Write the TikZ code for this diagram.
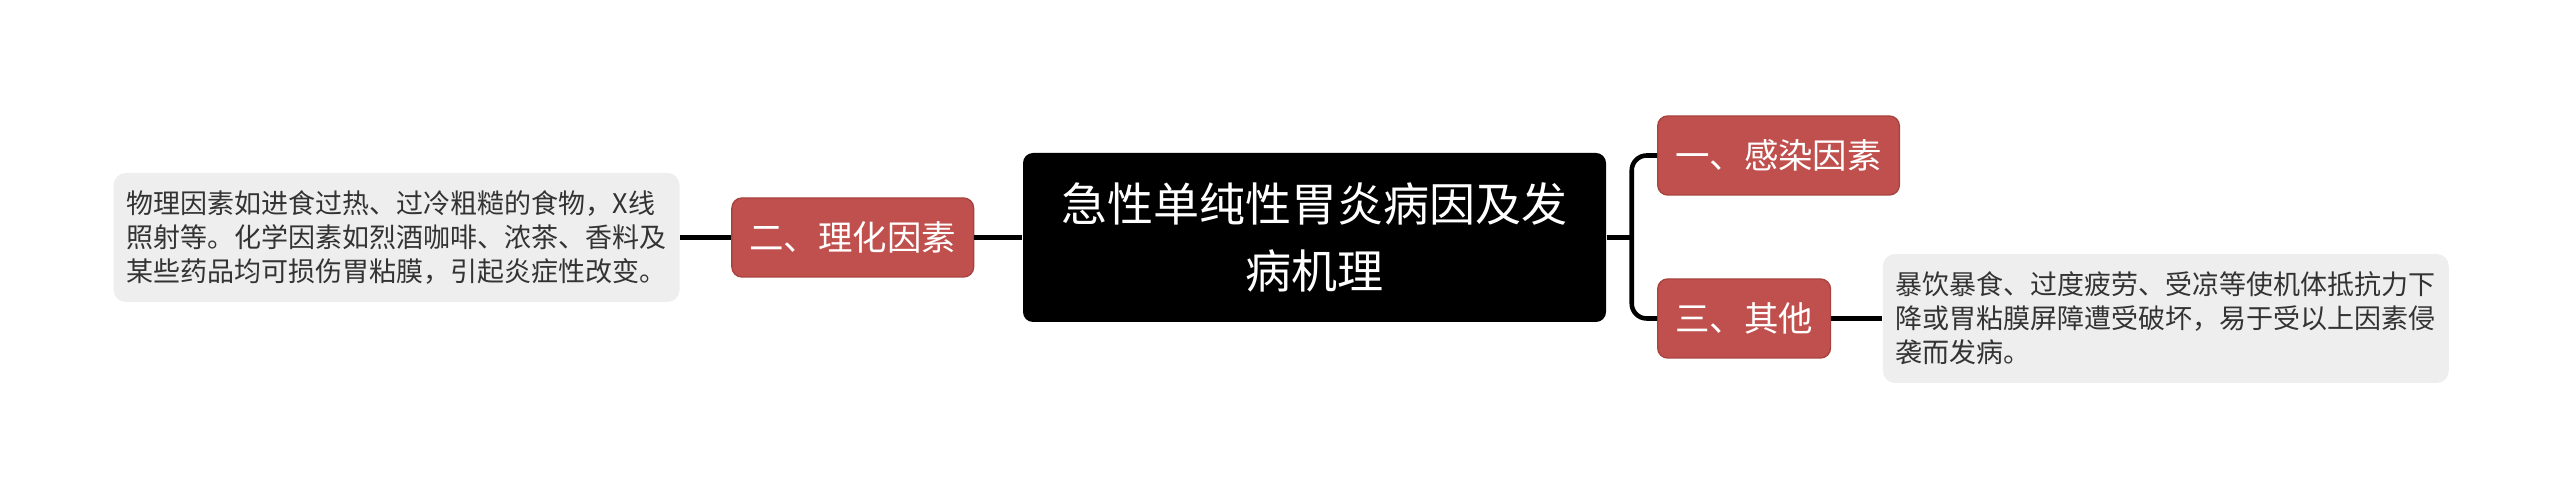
\documentclass[tikz,border=0pt]{standalone}
\usepackage{fontspec}
\setmainfont{Noto Sans CJK SC}
\usetikzlibrary{positioning}
\definecolor{topicred}{HTML}{C0504D}
\definecolor{topicline}{HTML}{A8433F}
\definecolor{notegray}{HTML}{EEEEEE}
\definecolor{notetext}{HTML}{333333}

\begin{document}
\begin{tikzpicture}[
				root/.style={rectangle, fill=black, rounded corners=0.1cm, text=white, align=center, minimum width=5.83cm, minimum height=1.69cm, inner sep=0pt, font=\fontsize{13.1pt}{19pt}\selectfont},
				topic/.style={rectangle, fill=topicred, draw=topicline, line width=0.4pt, rounded corners=0.1cm, text=white, minimum height=0.79cm, inner xsep=0.175cm, inner ysep=0pt, font=\fontsize{9.8pt}{12pt}\selectfont},
				note/.style={rectangle, fill=notegray, rounded corners=0.12cm, text=notetext, align=left, minimum width=5.64cm, minimum height=1.29cm, inner xsep=0.13cm, inner ysep=0pt, font=\fontsize{7.68pt}{9.67pt}\selectfont},
				link/.style={line width=1.3pt, black, rounded corners=0.15cm}
			]
			\useasboundingbox (0,0) rectangle (25.6,-5);
			\node[root] (root) at (13.145,-2.375) {急性单纯性胃炎病因及发\\病机理};
			% left side
			\node[topic, left=0.48cm of root] (lihua) {二、理化因素};
			\node[note, left=0.51cm of lihua] (wuli) {物理因素如进食过热、过冷粗糙的食物，X线\\照射等。化学因素如烈酒咖啡、浓茶、香料及\\某些药品均可损伤胃粘膜，引起炎症性改变。};
			% right side
			\node[topic, anchor=west] (ganran) at (16.57,-1.555) {一、感染因素};
			\node[topic, anchor=west] (qita) at (16.57,-3.185) {三、其他};
			\node[note, right=0.51cm of qita] (baoyin) {暴饮暴食、过度疲劳、受凉等使机体抵抗力下\\降或胃粘膜屏障遭受破坏，易于受以上因素侵\\袭而发病。};
			\coordinate[right=0.25cm of root.east] (fork);
			% connectors
			\draw[link] (root.west) -- (lihua.east);
			\draw[link] (lihua.west) -- (wuli.east);
			\draw[link] (root.east) -- (fork);
			\draw[link] (ganran.west) -| (fork) |- (qita.west);
			\draw[link] (qita.east) -- (baoyin.west);
		\end{tikzpicture}
\end{document}
